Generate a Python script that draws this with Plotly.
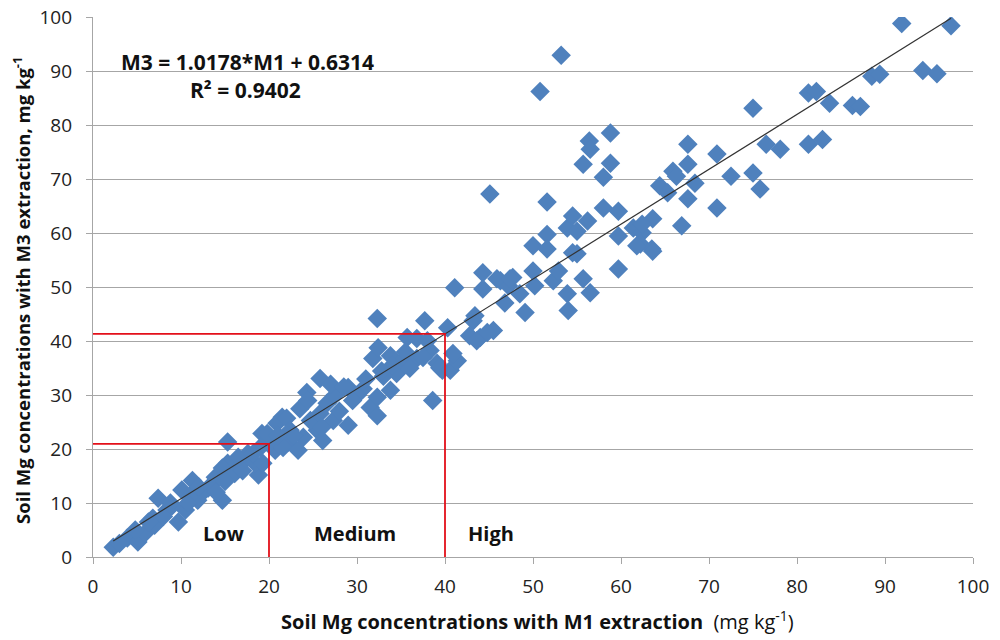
"""Soil Mg: Mehlich-3 vs Mehlich-1 extraction scatter with fitted line."""

import plotly.graph_objects as go

# M1 (x) and M3 (y) soil Mg, mg/kg
m1 = [
    2.3, 3.9, 5.1, 5.9, 4.8, 7.0, 6.8, 7.4, 8.4, 9.7, 10.5, 10.1, 11.3, 11.9,
    11.3, 13.1, 14.7, 13.9, 15.3, 14.7, 16.1, 16.9, 15.3, 17.6, 18.8, 18.4,
    19.2, 20.7, 21.5, 22.2, 3.0, 6.3, 8.0, 9.0, 12.5, 13.5, 15.0, 17.0, 8.8,
    12.0, 16.5, 20.0, 14.0, 10.8,
    19.0, 18.2, 19.3, 19.8, 20.9, 21.6, 22.0, 22.4, 23.3, 23.9, 25.5, 26.1,
    23.5, 24.3, 24.4, 24.7, 25.8, 25.8, 26.6, 27.3, 29.0, 30.7, 29.0, 31.5,
    32.3, 32.3, 33.8, 31.8, 32.4, 32.3, 33.8, 35.2, 35.7, 36.8, 36.8, 37.7,
    38.3, 39.1, 38.6, 39.7, 38.0, 37.5, 39.4, 40.6, 41.4, 40.9, 40.3,
    27.5, 28.0, 30.0, 31.0, 33.0, 34.5, 35.5, 27.0, 26.0, 29.5, 22.8, 21.0,
    28.5, 34.0, 36.0, 32.8,
    41.1, 43.2, 44.0, 45.5, 44.3, 44.3, 45.1, 46.3, 46.8, 47.7, 47.2, 48.5,
    49.1, 50.0, 50.2, 50.0, 50.8, 51.6, 51.6, 51.6, 52.3, 52.9, 53.2, 53.9,
    53.9, 54.0, 54.5, 54.5, 55.0, 55.0, 55.7, 55.7, 56.2, 56.4, 56.5, 56.5,
    58.0, 58.0, 58.8, 58.8, 59.7, 59.7, 59.7, 61.4, 62.4, 62.2, 63.5, 63.6,
    62.4, 64.4, 65.3, 65.9, 66.3, 66.9, 67.6, 67.6, 67.6, 68.4, 70.9, 70.9,
    72.5, 75.0, 75.8, 75.0, 76.5, 78.1, 81.3, 82.9, 81.3, 82.2, 83.7, 86.3,
    87.2, 88.5, 89.4, 91.9, 94.3, 95.9, 97.5,
    43.4, 44.8, 42.8, 43.6, 45.9, 47.4, 61.8, 63.6,
]
m3 = [
    1.8, 3.5, 2.8, 4.4, 5.0, 5.9, 7.2, 10.9, 8.7, 6.5, 8.7, 12.4, 14.2, 10.5,
    11.8, 12.8, 10.5, 14.8, 17.4, 16.5, 15.5, 17.4, 21.3, 19.2, 15.2, 17.4,
    22.9, 19.8, 25.9, 21.3, 2.5, 6.5, 7.5, 9.5, 12.0, 13.5, 14.0, 16.0, 10.0,
    13.0, 18.5, 21.0, 12.0, 10.0,
    20.3, 19.2, 17.4, 22.9, 24.8, 20.3, 25.7, 23.5, 19.8, 22.2, 23.5, 21.6,
    27.5, 30.5, 29.0, 25.3, 26.6, 33.1, 28.5, 25.3, 31.4, 31.2, 24.4, 27.7,
    29.6, 26.2, 30.9, 36.8, 38.8, 44.2, 37.3, 36.4, 40.7, 40.5, 36.8, 43.8,
    38.3, 35.9, 29.0, 34.6, 40.1, 37.0, 35.1, 34.6, 36.4, 37.7, 42.5,
    30.0, 27.0, 30.0, 33.0, 33.5, 34.0, 38.0, 32.0, 24.0, 29.0, 22.5, 22.5,
    31.5, 35.5, 35.0, 34.5,
    49.9, 43.8, 40.7, 42.0, 52.7, 49.7, 67.3, 51.2, 47.1, 51.8, 50.3, 48.8,
    45.3, 53.0, 50.3, 57.7, 86.3, 65.8, 59.8, 57.1, 51.2, 53.0, 93.0, 61.0,
    48.8, 45.7, 63.2, 56.4, 60.4, 56.2, 51.6, 72.8, 62.3, 77.1, 75.6, 49.0,
    70.4, 64.7, 78.6, 73.0, 64.1, 59.5, 53.4, 61.0, 60.1, 58.0, 57.1, 62.7,
    61.7, 68.8, 67.5, 71.5, 70.6, 61.4, 76.5, 72.8, 66.4, 69.3, 74.7, 64.7,
    70.6, 71.2, 68.2, 83.2, 76.5, 75.6, 76.5, 77.4, 86.0, 86.3, 84.1, 83.7,
    83.5, 89.1, 89.5, 98.9, 90.2, 89.6, 98.5,
    44.7, 41.6, 41.0, 40.1, 51.6, 51.6, 57.7, 56.7,
]

# linear fit reported in the figure
slope = 1.0178
intercept = 0.6314
r2 = 0.9402

# class limits on the M1 axis
class_limits = [20, 40]
class_names = ["Low", "Medium", "High"]
class_label_x = [14.8, 29.8, 45.2]

BLUE = "#4F81BD"
GRID = "#A6A6A6"
RED = "#E3101A"
FONT = "'Open Sans', Lato, sans-serif"
INK = "#111111"

fig = go.Figure()

fig.add_trace(go.Scatter(
    x=m1, y=m3, mode="markers",
    marker=dict(symbol="diamond", size=15, color=BLUE, line=dict(width=0)),
    showlegend=False,
))

# trendline across the data range
x0, x1 = min(m1), max(m1)
fig.add_trace(go.Scatter(
    x=[x0, x1], y=[slope * x0 + intercept, slope * x1 + intercept],
    mode="lines", line=dict(color="#333333", width=1.2),
    showlegend=False,
))

# red class boundary lines
for lim in class_limits:
    yv = slope * lim + intercept
    fig.add_trace(go.Scatter(
        x=[0, lim, lim], y=[yv, yv, 0], mode="lines",
        line=dict(color=RED, width=1.8), showlegend=False,
        cliponaxis=False,
    ))

for name, xv in zip(class_names, class_label_x):
    fig.add_annotation(x=xv, y=4.3, text=f"<b>{name}</b>", showarrow=False,
                       font=dict(size=20, color=INK, family=FONT))

fig.add_annotation(x=17.5, y=91.8,
                   text=f"<b>M3 = {slope}*M1 + {intercept}</b>",
                   showarrow=False,
                   font=dict(size=21, color=INK, family=FONT))
fig.add_annotation(x=17.3, y=86.6, text=f"<b>R² = {r2}</b>",
                   showarrow=False,
                   font=dict(size=21, color=INK, family=FONT))

# axis titles as paper annotations
fig.add_annotation(
    xref="paper", yref="paper", x=0.505, y=-0.117,
    xanchor="center", yanchor="middle", showarrow=False,
    text="<b>Soil Mg concentrations with M1 extraction</b>  "
         "(mg kg<sup>-1</sup>)",
    font=dict(size=20, color=INK, family=FONT),
)
fig.add_annotation(
    xref="paper", yref="paper", x=-0.081, y=0.494, textangle=-90,
    xanchor="center", yanchor="middle", showarrow=False,
    text="<b>Soil Mg concentrations with M3 extraction, mg kg<sup>-1</sup></b>",
    font=dict(size=18.5, color=INK, family=FONT),
)

# page body adds 8px, so margins are offset to land the plot at 93..973 / 17..557
fig.update_layout(
    width=1000, height=640,
    paper_bgcolor="white", plot_bgcolor="white",
    margin=dict(l=85, r=35, t=9, b=91),
    font=dict(family=FONT, color="#222222"),
)

fig.update_xaxes(
    range=[0, 100], tickvals=list(range(0, 101, 10)),
    showgrid=False, zeroline=False, automargin=False,
    showline=True, linecolor=GRID, linewidth=1.2,
    ticks="outside", ticklen=6, tickcolor=GRID,
    ticklabelstandoff=6, ticklabeloverflow="allow",
    tickfont=dict(size=19, color="#222222"),
)
fig.update_yaxes(
    range=[0, 100.1], tickvals=list(range(0, 101, 10)),
    showgrid=True, gridcolor=GRID, gridwidth=1.2, zeroline=False,
    automargin=False,
    showline=True, linecolor=GRID, linewidth=1.2,
    ticks="outside", ticklen=6, tickcolor=GRID,
    ticklabelstandoff=10, ticklabeloverflow="allow",
    tickfont=dict(size=19, color="#222222"),
)

fig.write_html("out.html")
